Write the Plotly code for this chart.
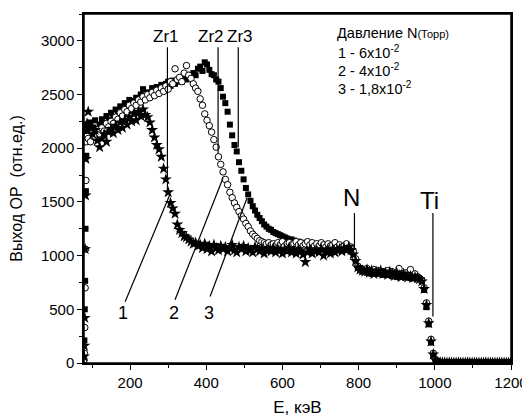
import plotly.graph_objects as go

# ---- data ----
energy_edge = [79, 80, 81, 82, 83, 84, 85, 87]
energy_main = list(range(90, 1201, 6))
energy = energy_edge + energy_main

s1_edge = [60, 160, 420, 1060, 1560, 1900, 2210, 2230]
s1_main = [
    2340, 2200, 2130, 2170, 2070, 2010, 2090, 2130, 2060, 2150,
    2180, 2140, 2210, 2170, 2240, 2190, 2260, 2220, 2290, 2250,
    2320, 2260, 2340, 2300, 2360, 2310, 2290, 2240, 2170, 2100,
    2030, 1990, 1920, 1810, 1710, 1590, 1490, 1440, 1390, 1290,
    1240, 1210, 1180, 1170, 1150, 1130, 1110, 1120, 1090, 1100,
    1070, 1110, 1060, 1090, 1040, 1100, 1070, 1050, 1090, 1060,
    1080, 1040, 1070, 1100, 1050, 1030, 1080, 1060, 1090, 1040,
    1070, 1050, 1030, 1080, 1060, 1040, 1070, 1020, 1050, 1060,
    1040, 1070, 1030, 1060, 1050, 1020, 1060, 1040, 1070, 1030,
    1050, 1020, 1060, 1040, 1010, 940, 1030, 1060, 1020, 1040,
    1050, 1030, 1060, 1000, 1040, 1050, 1020, 1060, 1030, 1050,
    1060, 1040, 1070, 1050, 1080, 1050, 1010, 950, 890, 870,
    860, 850, 870, 840, 860, 830, 850, 840, 860, 830,
    840, 820, 850, 830, 810, 840, 820, 800, 830, 810,
    800, 810, 790, 800, 790, 780, 760, 690, 540, 370,
    200, 80, 25, 10, 6, 4, 5, 3, 4, 3,
    3, 2, 4, 3, 2, 3, 4, 2, 3, 3,
    2, 3, 3, 2, 4, 3, 2, 3, 2, 3,
    3, 2, 3, 2, 3, 2,
]
series1 = s1_edge + s1_main

s2_edge = [30, 90, 330, 700, 1060, 1700, 2060, 2110]
s2_main = [
    2090, 2060, 2140, 2110, 2170, 2130, 2190, 2160, 2230, 2200,
    2250, 2230, 2290, 2270, 2330, 2300, 2360, 2340, 2400, 2370,
    2420, 2400, 2450, 2430, 2480, 2450, 2500, 2470, 2520, 2490,
    2540, 2510, 2560, 2530, 2580, 2550, 2620, 2600, 2740, 2640,
    2660, 2620, 2700, 2770, 2680, 2650, 2600, 2560, 2530, 2460,
    2400, 2320, 2260, 2210, 2150, 2080, 2010, 1920, 1850, 1780,
    1710, 1660, 1590, 1540, 1490, 1450, 1410, 1370, 1340, 1300,
    1270, 1230, 1200, 1180, 1160, 1140, 1130, 1120, 1110, 1120,
    1100, 1110, 1090, 1120, 1100, 1130, 1090, 1110, 1120, 1100,
    1110, 1130, 1100, 1120, 1090, 1110, 1130, 1100, 1120, 1090,
    1110, 1090, 1120, 1100, 1080, 1110, 1090, 1100, 1120, 1080,
    1100, 1080, 1090, 1110, 1070, 1080, 1040, 970, 900, 880,
    870, 850, 880, 860, 840, 870, 850, 860, 830, 850,
    840, 860, 830, 850, 820, 840, 880, 830, 810, 840,
    820, 870, 810, 830, 800, 790, 770, 700, 560, 390,
    220, 90, 30, 12, 6, 5, 4, 3, 4, 3,
    2, 3, 3, 4, 2, 3, 2, 3, 4, 2,
    3, 2, 3, 3, 2, 4, 3, 2, 3, 2,
    2, 3, 2, 3, 2, 3,
]
series2 = s2_edge + s2_main

s3_edge = [40, 210, 500, 765, 1250, 1600, 1930, 2150]
s3_main = [
    2160, 2240, 2190, 2260, 2180, 2220, 2270, 2230, 2300, 2260,
    2330, 2290, 2360, 2320, 2390, 2350, 2420, 2380, 2450, 2400,
    2440, 2470, 2430, 2500, 2550, 2480, 2520, 2490, 2560, 2530,
    2570, 2540, 2590, 2560, 2600, 2620, 2580, 2630, 2600, 2620,
    2640, 2620, 2660, 2640, 2680, 2660, 2700, 2680, 2740, 2760,
    2720, 2800, 2780, 2730, 2690, 2680, 2640, 2620, 2560, 2480,
    2420, 2340, 2220, 2120, 2030, 1970, 1870, 1790, 1710, 1630,
    1570, 1510, 1460, 1420, 1380, 1350, 1320, 1290, 1270, 1250,
    1240, 1220, 1210, 1200, 1190, 1180, 1170, 1160, 1150, 1150,
    1140, 1120, 1130, 1110, 1120, 1100, 1110, 1090, 1100, 1110,
    1090, 1100, 1080, 1090, 1070, 1090, 1080, 1070, 1090, 1060,
    1080, 1070, 1060, 1080, 1060, 1050, 1020, 960, 890, 870,
    850, 860, 840, 850, 830, 860, 840, 830, 850, 820,
    830, 820, 840, 810, 820, 800, 830, 810, 800, 820,
    800, 790, 810, 790, 800, 780, 760, 680, 520, 360,
    190, 70, 20, 8, 5, 4, 3, 4, 3, 3,
    3, 2, 3, 2, 4, 3, 2, 3, 3, 2,
    2, 3, 2, 3, 3, 2, 3, 2, 4, 3,
    3, 2, 3, 2, 2, 3,
]
series3 = s3_edge + s3_main

x_ticks = [200, 400, 600, 800, 1000, 1200]
y_ticks = [0, 500, 1000, 1500, 2000, 2500, 3000]

legend_title = "Давление N<span style='font-size:11px'>(Торр)</span>"
legend_lines = ["1 - 6x10<sup>-2</sup>", "2 - 4x10<sup>-2</sup>", "3 - 1,8x10<sup>-2</sup>"]

# peak markers
peak_labels = ["Zr1", "Zr2", "Zr3"]
peak_energy = [298, 431, 484]
peak_bottom = [1600, 1950, 2010]
peak_label_x = [293, 412, 489]

FONT = "Arial, 'Liberation Sans', sans-serif"

fig = go.Figure()
fig.add_trace(go.Scatter(x=energy, y=series3, mode="markers", cliponaxis=True,
                         marker=dict(symbol="square", size=6, color="black",
                                     line=dict(width=0))))
fig.add_trace(go.Scatter(x=energy, y=series2, mode="markers", cliponaxis=True,
                         marker=dict(symbol="circle", size=6.5, color="white",
                                     line=dict(width=1, color="black"))))
fig.add_trace(go.Scatter(x=energy, y=series1, mode="markers", cliponaxis=True,
                         marker=dict(symbol="star", size=9, color="black",
                                     line=dict(width=0))))

line_style = dict(color="black", width=1.2)
for lab, e, yb, lx in zip(peak_labels, peak_energy, peak_bottom, peak_label_x):
    fig.add_shape(type="line", x0=e, x1=e, y0=yb, y1=2940, xref="x", yref="y", line=line_style)
    fig.add_annotation(x=lx, y=3040, text=lab, showarrow=False, xref="x", yref="y",
                       font=dict(size=17, family=FONT, color="black"))

# N and Ti
fig.add_shape(type="line", x0=789, x1=789, y0=1053, y1=1397, xref="x", yref="y", line=line_style)
fig.add_annotation(x=782, y=1545, text="N", showarrow=False, font=dict(size=24, family=FONT, color="black"))
fig.add_shape(type="line", x0=995, x1=995, y0=433, y1=1397, xref="x", yref="y", line=line_style)
fig.add_annotation(x=987, y=1510, text="Ti", showarrow=False, font=dict(size=24, family=FONT, color="black"))

# series label pointers
pointers = [("1", 187, 570, 305, 1574, 181), ("2", 318, 589, 444, 1722, 314), ("3", 410, 619, 507, 1537, 406)]
for lab, xa, ya, xb, yb, lx in pointers:
    fig.add_shape(type="line", x0=xa, y0=ya, x1=xb, y1=yb, xref="x", yref="y", line=line_style)
    fig.add_annotation(x=lx, y=470, text=lab, showarrow=False, font=dict(size=18, family=FONT, color="black"))

# legend text
fig.add_annotation(x=739, y=3075, text=legend_title, showarrow=False, xanchor="left",
                   font=dict(size=14.5, family=FONT, color="black"))
for i, t in enumerate(legend_lines):
    fig.add_annotation(x=741, y=2900 - i * 170, text=t, showarrow=False, xanchor="left",
                       font=dict(size=14.5, family=FONT, color="black"))

# frame around the plot area
fig.add_shape(type="rect", xref="x domain", yref="y domain", x0=0, y0=0, x1=1, y1=1,
              line=dict(color="black", width=1.5), layer="above")

axis_common = dict(showline=True, linecolor="black", linewidth=1.5, mirror=True,
                   ticks="outside", ticklen=5, tickwidth=1.2, tickcolor="black",
                   showgrid=False, zeroline=False, automargin=False,
                   tickfont=dict(size=15, family=FONT, color="black"))

fig.update_xaxes(range=[79, 1200], tickvals=x_ticks,
                 minor=dict(dtick=100, tick0=0, ticks="outside", ticklen=3, tickcolor="black", showgrid=False),
                 title=dict(text="E, кэВ", font=dict(size=17, family=FONT, color="black"), standoff=19),
                 **axis_common)
fig.update_yaxes(range=[0, 3250], tickvals=y_ticks,
                 minor=dict(dtick=250, tick0=0, ticks="outside", ticklen=3, tickcolor="black", showgrid=False),
                 title=dict(text="Выход ОР  (отн.ед.)", font=dict(size=16, family=FONT, color="black"), standoff=14),
                 **axis_common)

# the page adds an 8px body margin, so the figure is sized/margined to compensate
fig.update_layout(width=522, height=409, margin=dict(l=76, r=19, t=6, b=54),
                  plot_bgcolor="white", paper_bgcolor="white", showlegend=False,
                  font=dict(family=FONT, color="black"))

fig.write_html("out.html")
